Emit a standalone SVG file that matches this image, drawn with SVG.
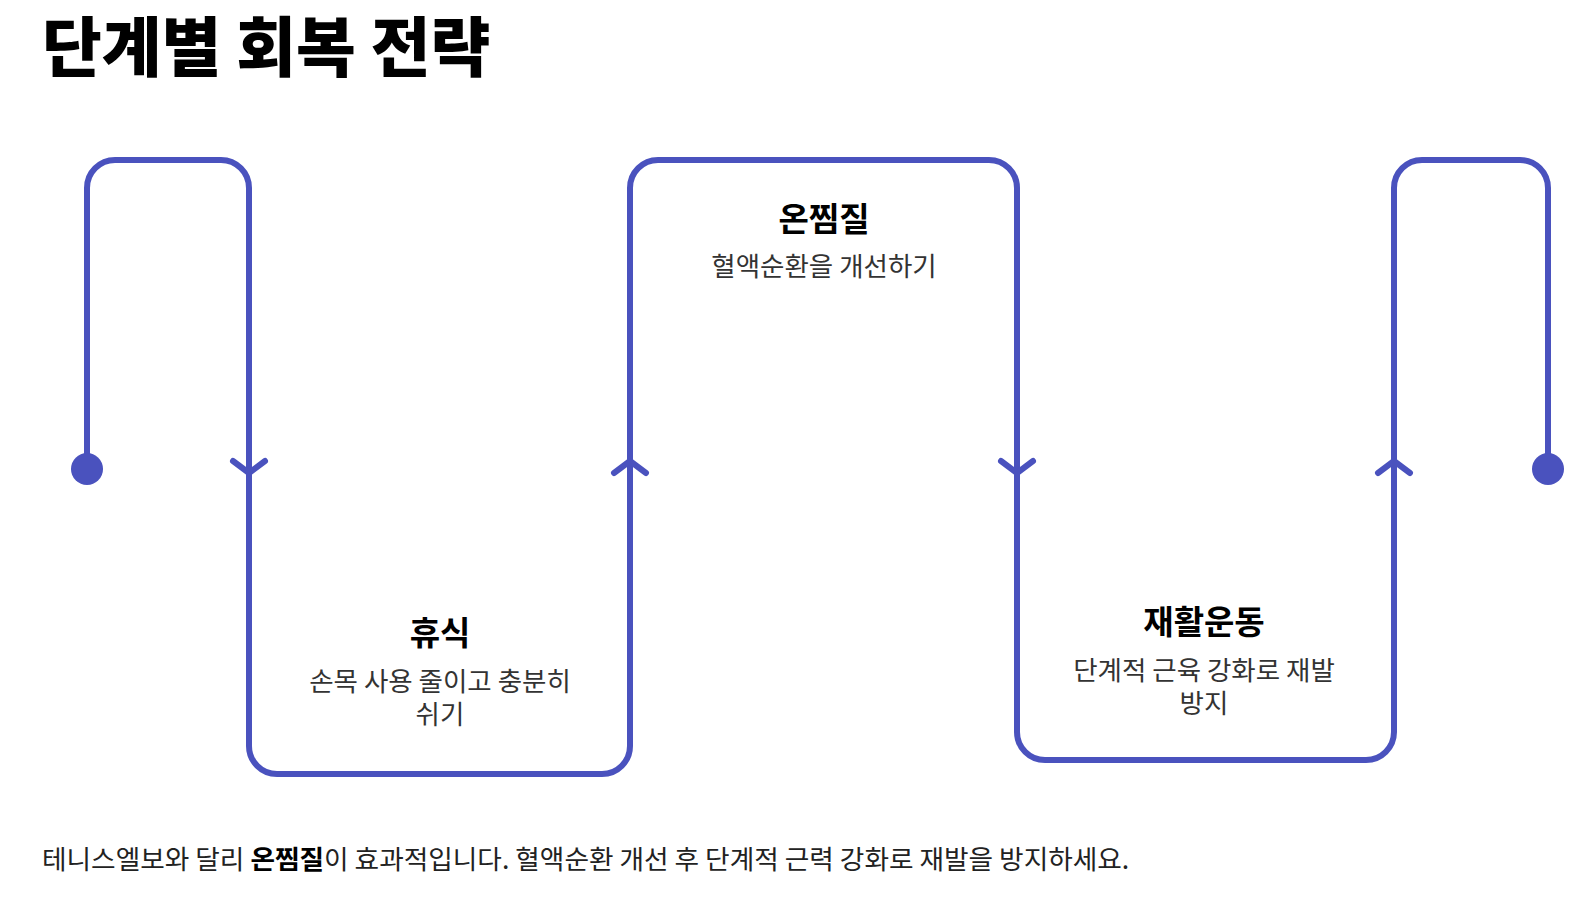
<svg xmlns="http://www.w3.org/2000/svg" width="1596" height="898" viewBox="0 0 1596 898">
<style>
.ttl{font-family:"Noto Sans CJK KR","Noto Sans",sans-serif;font-weight:900;font-size:65px;fill:#000}
.h{font-family:"Noto Sans CJK KR","Noto Sans",sans-serif;font-weight:700;font-size:33px;fill:#000;text-anchor:middle}
.d{font-family:"Noto Sans CJK KR","Noto Sans",sans-serif;font-weight:400;font-size:26.5px;fill:#333;text-anchor:middle}
.f{font-family:"Noto Sans CJK KR","Noto Sans",sans-serif;font-weight:400;font-size:26.7px;fill:#222}
.ln{fill:none;stroke:#4A52BE;stroke-width:6;stroke-linecap:round;stroke-linejoin:round}
.dot{fill:#4A52BE}
</style>
<rect width="1596" height="898" fill="#fff"/>
<text class="ttl" x="42" y="71">단계별 회복 전략</text>
<g id="connectors">
<path class="ln" d="M87,469 V188 A28,28 0 0 1 115,160 H221 A28,28 0 0 1 249,188 V746 A28,28 0 0 0 277,774 H602 A28,28 0 0 0 630,746 V188 A28,28 0 0 1 658,160 H989 A28,28 0 0 1 1017,188 V732 A28,28 0 0 0 1045,760 H1366 A28,28 0 0 0 1394,732 V188 A28,28 0 0 1 1422,160 H1520 A28,28 0 0 1 1548,188 V469"/>
<path class="ln" d="M233,461 L249,473 L265,461"/>
<path class="ln" d="M614,473 L630,461 L646,473"/>
<path class="ln" d="M1001,461 L1017,473 L1033,461"/>
<path class="ln" d="M1378,473 L1394,461 L1410,473"/>
<circle class="dot" cx="87" cy="469" r="16"/>
<circle class="dot" cx="1548" cy="469" r="16"/>
</g>
<g id="node-rest">
<text class="h" x="440" y="645">휴식</text>
<text class="d" x="440" y="691">손목 사용 줄이고 충분히</text>
<text class="d" x="440" y="724">쉬기</text>
</g>
<g id="node-heat">
<text class="h" x="824" y="231">온찜질</text>
<text class="d" x="824" y="276">혈액순환을 개선하기</text>
</g>
<g id="node-rehab">
<text class="h" x="1204" y="634">재활운동</text>
<text class="d" x="1204" y="680">단계적 근육 강화로 재발</text>
<text class="d" x="1204" y="713">방지</text>
</g>
<text class="f" x="42" y="869">테니스엘보와 달리 <tspan font-weight="700" fill="#000">온찜질</tspan>이 효과적입니다. 혈액순환 개선 후 단계적 근력 강화로 재발을 방지하세요.</text>
</svg>
